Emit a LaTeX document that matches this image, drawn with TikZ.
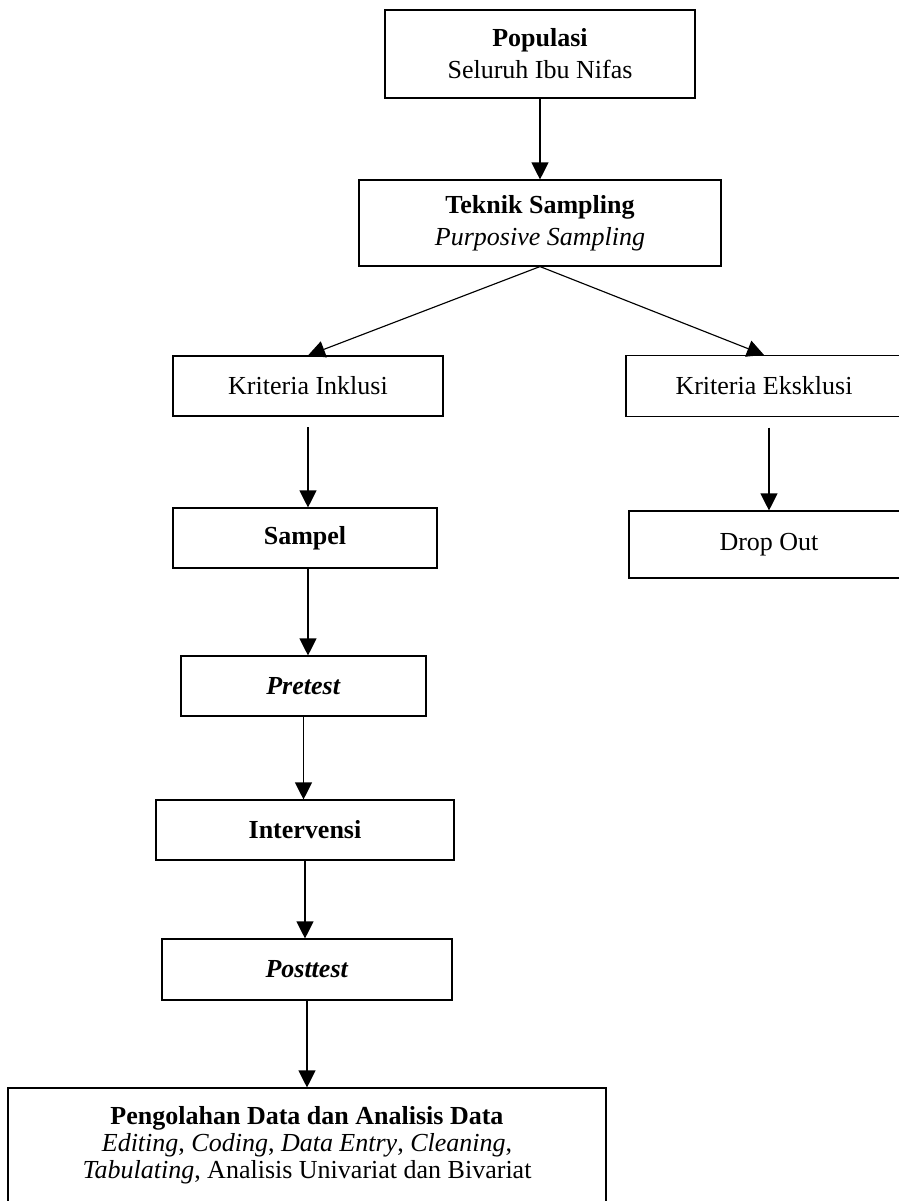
\documentclass[tikz,border=0pt]{standalone}
\usepackage{fontspec}
\setmainfont{Liberation Serif}
\usetikzlibrary{arrows.meta}
\tikzset{
    box/.style = {rectangle, draw=black, line width=0.65pt, align=center, inner sep=2pt, font=\fontsize{14.8}{18.2}\selectfont},
    boxt/.style = {box, font=\fontsize{14.8}{15.4}\selectfont}, % tighter lines
    edgen/.style = {-{Triangle[length=0.34cm,width=0.34cm]}, line width=0.65pt},
}

\begin{document}
\begin{tikzpicture}[x=0.02cm,y=-0.02cm]
\useasboundingbox (0,0) rectangle (899,1201);
\node[box, minimum width=6.2cm, minimum height=1.76cm] at (540,54) (pop) {\textbf{Populasi}\\Seluruh Ibu Nifas};
\node[box, minimum width=7.24cm, minimum height=1.72cm] at (540,223) (tek) {\textbf{Teknik Sampling}\\\textit{Purposive Sampling}};
\node[box, minimum width=5.4cm, minimum height=1.2cm] at (308,386) (inkl) {Kriteria Inklusi};
\node[box, minimum width=5.52cm, minimum height=1.22cm] at (764,386) (eksk) {Kriteria Eksklusi};
\node[box, minimum width=5.28cm, minimum height=1.2cm] at (305,538) (samp) {\textbf{Sampel}};
\node[box, minimum width=5.6cm, minimum height=1.34cm] at (769,544.5) (drop) {Drop Out};
\node[box, minimum width=4.9cm, minimum height=1.2cm] at (303.5,686) (pre) {\textbf{\textit{Pretest}}};
\node[box, minimum width=5.96cm, minimum height=1.2cm] at (305,830) (int) {\textbf{Intervensi}};
\node[box, minimum width=5.8cm, minimum height=1.22cm] at (307,969.5) (post) {\textbf{\textit{Posttest}}};
\node[boxt, minimum width=11.96cm, minimum height=2.28cm] at (307,1145) (peng) {\textbf{Pengolahan Data dan Analisis Data}\\\textit{Editing}, \textit{Coding}, \textit{Data Entry}, \textit{Cleaning},\\\textit{Tabulating}, Analisis Univariat dan Bivariat};
%
\draw[edgen] (pop) -- (tek);
\draw[edgen] (tek.south) -- (inkl.north);
\draw[edgen] (tek.south) -- (eksk.north);
\draw[edgen, shorten <=6] (inkl.south) -- (inkl.south |- samp.north);
\draw[edgen, shorten <=6] (drop.north |- eksk.south) -- (drop.north);
\draw[edgen] (inkl.south |- samp.south) -- (inkl.south |- pre.north);
\draw[edgen] (pre.south) -- (pre.south |- int.north);
\draw[edgen] (int.south) -- (int.south |- post.north);
\draw[edgen] (post) -- (peng);
\end{tikzpicture}
\end{document}
